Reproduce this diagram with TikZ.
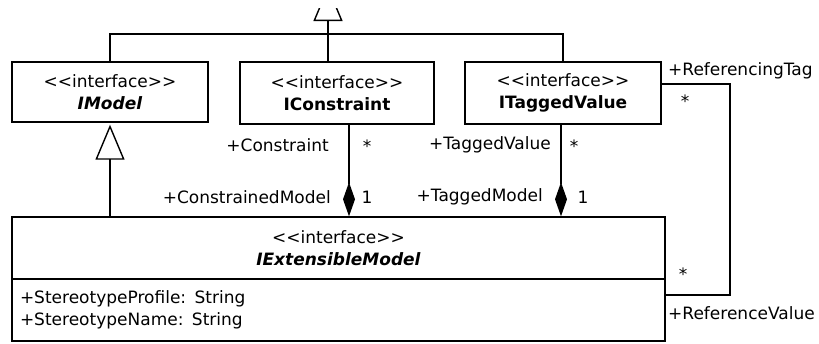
\documentclass[tikz,border=0pt]{standalone}
\usepackage{fontspec}
\setmainfont{DejaVu Sans}
\usetikzlibrary{arrows.meta}
\newcommand{\stereo}{<\kern0pt<interface>\kern0pt>}
\begin{document}
\begin{tikzpicture}[x=1pt,y=-1pt,
  every node/.style={font=\fontsize{17}{22}\selectfont, inner sep=0pt},
  line/.style={line width=1.4pt},
  cls/.style={draw, line width=1.4pt, align=center, minimum width=196pt, minimum height=62pt},
  compart/.style={draw, line width=1.4pt, minimum width=653pt, minimum height=62pt},
  gen/.style={line width=1.4pt, -{Triangle[open, width=29pt, length=35pt, line width=1.4pt]}},
  comp/.style={line width=1.4pt, {Diamond[fill=black, width=12pt, length=34pt]}-}
]
\useasboundingbox (0,0) rectangle (819,343);

% classes
\node[cls, minimum height=60pt] (imodel) at (110,92) {\stereo\\\textbf{\textit{IModel}}};
\node[cls, minimum width=194pt] (icons) at (337,93) {\stereo\\\textbf{IConstraint}};
\node[cls] (itagged) at (563,93) {\stereo\\\textbf{ITaggedValue}};
\node[compart, align=center] (iext) at (338.5,248) {\stereo\\\textbf{\textit{IExtensibleModel}}};
\node[compart, align=left, text width=637pt, inner xsep=8pt] (iextattr) at (338.5,310)
  {+StereotypeProfile: String\\+StereotypeName: String};

% generalization tree to the common parent
\coordinate (gtop) at (328,34);
\coordinate (gapex) at (328,-14);
\draw[line] (imodel.north) |- (gtop) -| (itagged.north);
\draw[line] (gtop) -- (gtop |- icons.north);
\begin{scope}
  \clip (0,8) rectangle (819,40);
  \draw[gen] (gtop) -- (gapex);
\end{scope}

% IExtensibleModel specializes IModel
\draw[gen, shorten >=2pt] (iext.north -| imodel.south) -- (imodel.south);

% compositions
\draw[comp] ([xshift=12pt]icons.south |- iext.north) -- ([xshift=12pt]icons.south);
\draw[comp] ([xshift=-2pt]itagged.south |- iext.north) -- ([xshift=-2pt]itagged.south);

% self association between ITaggedValue and IExtensibleModel
\coordinate (rt) at (730,84);
\coordinate (rb) at (730,295);
\draw[line] ([yshift=9pt]itagged.east) -- (rt) -- (rb) -- (rb -| iext.east);

% role names and multiplicities
\node[anchor=east] (rc) at (329,145) {+Constraint};
\node (mc) at (367,146) {*};
\node[anchor=east] (rcm) at (331,197) {+ConstrainedModel};
\node (mcm) at (367,197) {1};
\node[anchor=east] (rtv) at (551,145) {+TaggedValue};
\node (mtv) at (574,146) {*};
\node[anchor=east] (rtm) at (543,197) {+TaggedModel};
\node (mtm) at (583,197) {1};
\node[anchor=west] (rrt) at (668,71) {+ReferencingTag};
\node (mrt) at (685,101) {*};
\node (mrv) at (683,274) {*};
\node[anchor=west] (rrv) at (668,313) {+ReferenceValue};
\end{tikzpicture}
\end{document}
